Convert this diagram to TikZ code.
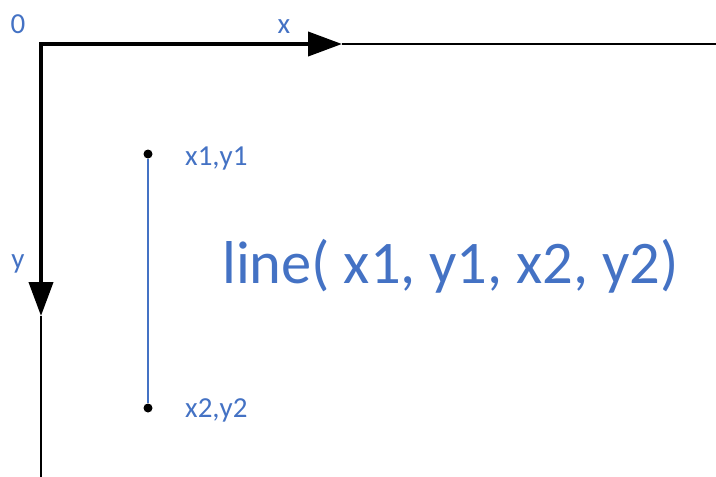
\documentclass[tikz,border=0pt]{standalone}
\usepackage{fontspec}
\setmainfont{Carlito}
\usepackage{tikz}
\usetikzlibrary{arrows.meta, positioning}
\usepackage{xcolor}
\definecolor{lblue}{HTML}{4472C4}

\begin{document}
\begin{tikzpicture}[x=1pt, y=-1pt, font=\fontsize{29}{35}\selectfont,
    lbl/.style={text=lblue, inner sep=0pt, anchor=base},
    axis/.style={line width=4pt, line join=miter, {Triangle[length=34pt, width=24pt]}-{Triangle[length=34pt, width=24pt]}},
    thinaxis/.style={line width=2pt},
    dot/.style={circle, fill=black, inner sep=0pt, minimum size=9pt}]
    \useasboundingbox (0,0) rectangle (716,477);
    % axes
    \coordinate (o) at (41,44);
    \coordinate (xtip) at (342,44);
    \coordinate (xend) at (716,44);
    \coordinate (ytip) at (41,316);
    \coordinate (yend) at (41,477);
    \draw[thinaxis] (xtip) -- (xend);
    \draw[thinaxis] (ytip) -- (yend);
    \draw[axis] (ytip) -- (o) -- (xtip);
    \node[lbl] (zero) at (18,33) {0};
    \node[lbl] (xlbl) at (284,33) {x};
    \node[lbl] (ylbl) at (18,268) {y};
    % the line
    \node[dot] (p1) at (148,154) {};
    \node[dot] (p2) at (148,408) {};
    \draw[lblue, line width=2.2pt] (p1) -- (p2);
    \node[lbl, anchor=base west] (p1lbl) at (185,165) {x1,y1};
    \node[lbl, anchor=base west] (p2lbl) at (185,417) {x2,y2};
    \node[lbl, anchor=base west, font=\fontsize{60.5}{72}\selectfont] (call) at (222,283) {line( x1, y1, x2, y2)};
\end{tikzpicture}
\end{document}
